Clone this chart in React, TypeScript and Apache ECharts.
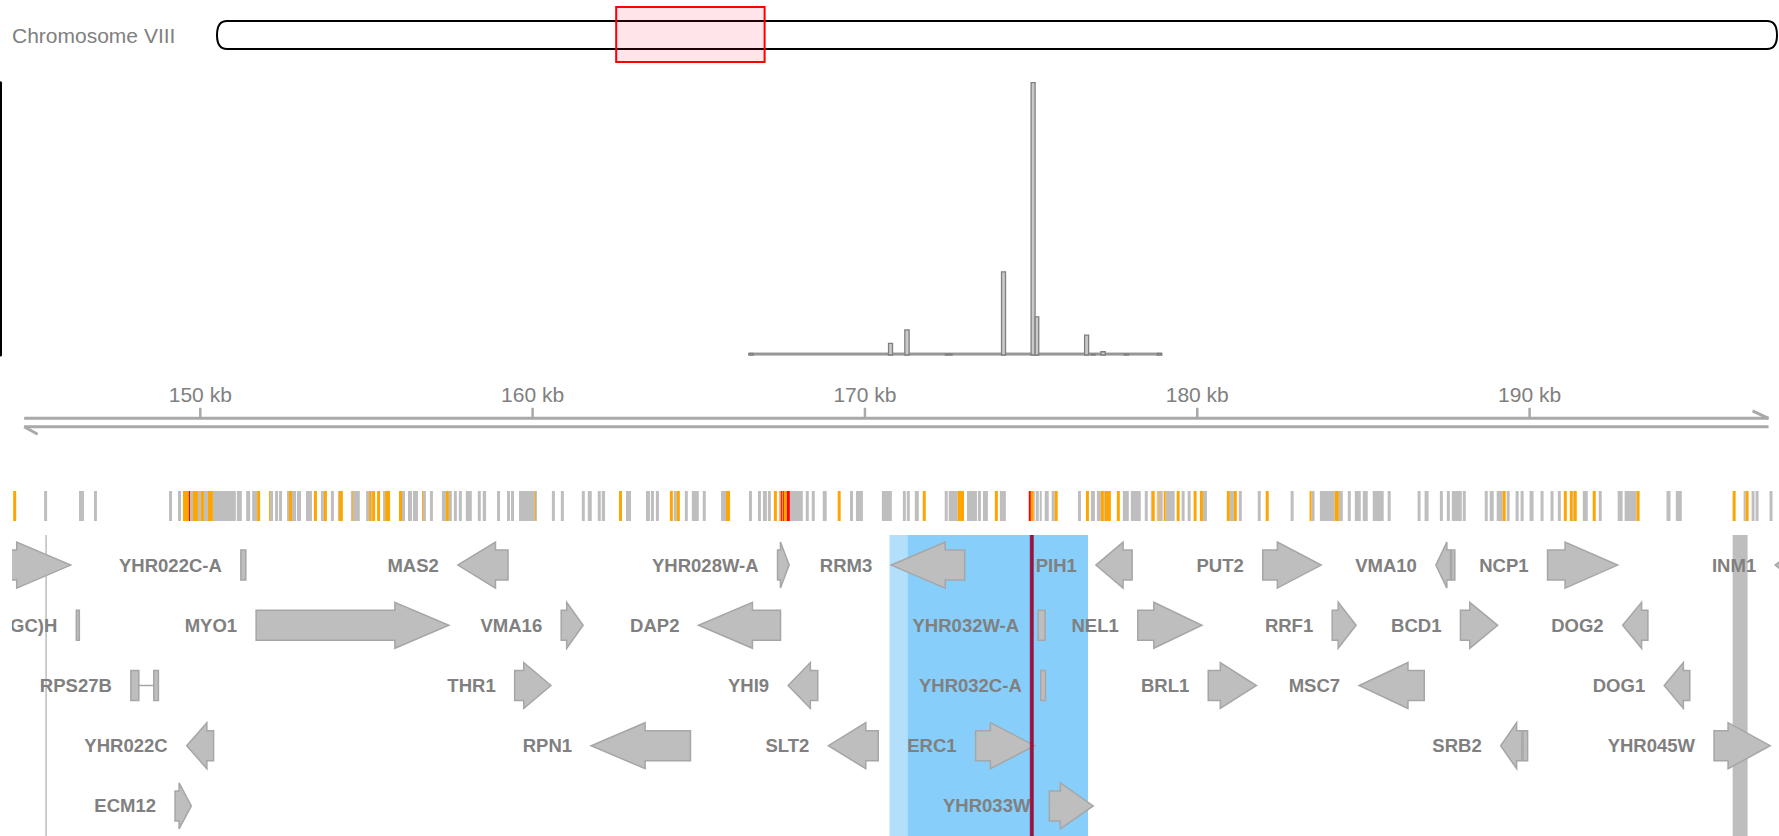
import React, { useEffect, useRef } from "react";
import * as echarts from "echarts";

const FONT = '"Liberation Sans", Arial, Helvetica, sans-serif';
const WIDTH = 1779;
const HEIGHT = 836;

// ---------------- data ----------------
const chromosomeLabel = "Chromosome VIII";
const chromosomeLengthKb = 562.643;
const viewStartKb = 143.973;
const viewEndKb = 197.505;

const axisStartKb = 144.7;
const axisEndKb = 197.19;
const axisTicksKb = [150, 160, 170, 180, 190];

// coverage histogram (bins)
const coverageStartKb = [166.51, 170.71, 171.2, 172.42, 174.11, 175.0, 175.12, 176.61, 176.81, 177.1, 177.8, 178.8];
const coverageEndKb = [166.63, 170.83, 171.33, 172.62, 174.23, 175.12, 175.23, 176.73, 176.93, 177.23, 177.93, 178.93];
const coverageValue = [0.6, 4.3, 9.2, 0.3, 30.5, 100, 14.0, 7.3, 0.3, 1.2, 0.3, 0.6];
const coverageBaselineKb = [166.51, 178.93];
const coverageBaselineValue = 0.7;

// variants: [startKb, endKb]
const lowImpactVariants: number[][] = [
  [145.3, 145.39], [146.35, 146.5], [146.8, 146.89], [149.06, 149.15], [149.33, 149.42], [149.69, 149.78],
  [149.93, 150.02], [150.11, 150.23], [150.38, 151.07], [151.1, 151.25], [151.38, 151.5], [151.56, 151.71],
  [152.1, 152.19], [152.25, 152.34], [152.37, 152.46], [152.61, 152.67], [152.76, 152.88], [152.91, 153.03],
  [153.18, 153.36], [153.63, 153.72], [153.93, 154.02], [154.14, 154.17], [154.53, 154.56], [154.59, 154.8],
  [154.99, 155.08], [155.14, 155.17], [155.5, 155.56], [156.07, 156.16], [156.25, 156.37], [156.4, 156.55],
  [156.7, 156.79], [156.91, 157.0], [157.27, 157.39], [157.48, 157.57], [157.63, 157.72], [157.78, 157.87],
  [157.99, 158.17], [158.35, 158.44], [158.5, 158.6], [158.93, 159.02], [159.23, 159.32], [159.35, 159.44],
  [159.59, 160.07], [160.1, 160.13], [160.58, 160.67], [160.85, 160.94], [161.48, 161.57], [161.66, 161.78],
  [161.96, 162.05], [162.08, 162.18], [162.81, 162.96], [163.41, 163.53], [163.56, 163.65], [163.71, 163.8],
  [164.25, 164.34], [164.58, 164.67], [164.79, 165.0], [165.12, 165.21], [165.67, 165.82], [166.51, 166.6],
  [166.78, 166.87], [166.93, 167.05], [167.08, 167.17], [167.41, 167.44], [167.74, 168.13], [168.22, 168.31],
  [168.4, 168.49], [168.73, 168.85], [169.55, 169.64], [169.73, 169.94], [170.51, 170.81], [171.14, 171.23],
  [171.26, 171.35], [171.5, 171.62], [172.4, 172.49], [172.52, 172.79], [173.07, 173.37], [173.4, 173.49],
  [173.55, 173.7], [174.06, 174.24], [175.08, 175.11], [175.14, 175.23], [175.26, 175.32], [175.41, 175.53],
  [175.62, 175.71], [176.41, 176.5], [176.8, 176.92], [176.98, 177.1], [177.19, 177.22], [177.76, 177.94],
  [178.0, 178.3], [178.42, 178.51], [178.6, 178.63], [178.78, 178.81], [178.84, 178.96], [179.05, 179.32],
  [179.53, 179.62], [179.71, 179.8], [180.17, 180.29], [180.98, 181.1], [181.25, 181.34], [181.82, 181.91],
  [182.81, 182.9], [183.44, 183.53], [183.69, 184.14], [184.26, 184.38], [184.53, 184.62], [184.74, 184.92],
  [184.98, 185.13], [185.28, 185.61], [185.73, 185.82], [186.63, 186.72], [186.84, 186.96], [187.3, 187.39],
  [187.51, 187.6], [187.66, 187.96], [187.99, 188.08], [188.65, 188.74], [188.8, 188.92], [189.01, 189.19],
  [189.31, 189.4], [189.58, 189.67], [189.73, 189.82], [190.0, 190.12], [190.33, 190.42], [190.63, 190.72],
  [190.85, 190.94], [191.3, 191.33], [191.6, 191.75], [192.08, 192.17], [192.65, 192.8], [192.86, 193.22],
  [194.12, 194.24], [194.4, 194.58], [196.44, 196.5], [196.68, 196.77], [196.8, 196.89], [197.22, 197.31],
];
const moderateImpactVariants: number[][] = [
  [144.37, 144.46], [149.48, 149.66], [149.78, 149.93], [150.02, 150.11], [150.23, 150.38], [151.71, 151.8],
  [152.07, 152.1], [152.67, 152.76], [153.42, 153.51], [153.72, 153.81], [154.17, 154.29], [154.56, 154.59],
  [155.08, 155.14], [155.17, 155.26], [155.32, 155.41], [155.56, 155.71], [155.98, 156.07], [156.67, 156.7],
  [157.39, 157.48], [160.07, 160.1], [162.6, 162.69], [164.13, 164.22], [164.34, 164.43], [165.82, 165.94],
  [167.26, 167.35], [167.44, 167.47], [167.5, 167.53], [167.56, 167.65], [169.18, 169.27], [171.74, 171.83],
  [172.79, 172.98], [173.91, 174.0], [174.99, 175.08], [175.71, 175.8], [176.65, 176.74], [177.1, 177.19],
  [177.22, 177.4], [177.58, 177.67], [178.63, 178.72], [178.81, 178.84], [178.99, 179.05], [179.38, 179.47],
  [179.89, 179.98], [180.08, 180.17], [180.89, 180.98], [181.1, 181.19], [182.06, 182.15], [183.38, 183.44],
  [184.14, 184.26], [189.19, 189.28], [191.03, 191.12], [191.21, 191.3], [191.33, 191.42], [191.9, 191.99],
  [193.22, 193.31], [196.11, 196.2], [196.5, 196.59],
];
const highImpactVariants: number[][] = [
  [149.66, 149.69], [167.47, 167.5], [167.53, 167.56], [167.65, 167.74], [174.93, 174.99],
];

// genes
const geneNames = [
  "YHR020W", "YHR022C-A", "MAS2", "YHR028W-A", "RRM3", "PIH1", "PUT2", "VMA10", "NCP1", "INM1",
  "tA(AGC)H", "MYO1", "VMA16", "DAP2", "YHR032W-A", "NEL1", "RRF1", "BCD1", "DOG2",
  "RPS27B", "THR1", "YHI9", "YHR032C-A", "BRL1", "MSC7", "DOG1",
  "YHR022C", "RPN1", "SLT2", "ERC1", "SRB2", "YHR045W",
  "ECM12", "YHR033W",
];
const geneStartKb = [
  143.5, 151.22, 157.75, 167.37, 170.79, 176.95, 181.97, 187.18, 190.54, 197.39,
  146.27, 151.68, 160.86, 164.99, 175.21, 178.21, 184.06, 187.92, 192.8,
  147.91, 159.46, 167.69, 175.29, 180.33, 184.87, 194.05,
  149.59, 161.76, 168.9, 173.33, 189.13, 195.55,
  149.24, 175.55,
];
const geneEndKb = [
  146.1, 151.37, 159.26, 167.72, 173.0, 178.04, 183.73, 187.75, 192.65, 198.6,
  146.36, 157.48, 161.52, 167.46, 175.42, 180.14, 184.78, 189.04, 193.56,
  148.74, 160.55, 168.58, 175.43, 181.78, 186.83, 194.82,
  150.4, 164.75, 170.4, 175.11, 189.94, 197.24,
  149.73, 176.87,
];
const geneStrand = [
  "+", "-", "-", "+", "-", "-", "+", "-", "+", "-",
  "+", "+", "+", "-", "+", "+", "+", "+", "-",
  "-", "+", "-", "-", "+", "-", "-",
  "-", "-", "-", "+", "-", "+",
  "+", "+",
];
const geneRow = [
  1, 1, 1, 1, 1, 1, 1, 1, 1, 1,
  2, 2, 2, 2, 2, 2, 2, 2, 2,
  3, 3, 3, 3, 3, 3, 3,
  4, 4, 4, 4, 4, 4,
  5, 5,
];
const geneExonsKb: Record<string, number[][]> = {
  RPS27B: [[147.91, 148.15], [148.6, 148.74]],
  VMA10: [[187.18, 187.62], [187.65, 187.75]],
  SRB2: [[189.13, 189.77], [189.8, 189.94]],
};

const highlightRangesKb = [[170.74, 176.71], [171.29, 176.71]];
const greyBandKb = [196.11, 196.56];
const guideLineKb = 145.36;
const markerKb = 175.02;

// ---------------- styles ----------------
const TEXT_GREY = "#808080";
const GENE_FILL = "#bebebe";
const GENE_STROKE = "#a6a6a6";
const HIGHLIGHT_COLORS = ["#b1dffc", "#87cefa"];
const GENE_GRID_LEFT = 12;

function arrowPoints(x0: number, x1: number, yc: number, strand: string) {
  const w = x1 - x0;
  const head = Math.min(0.75 * w, 54);
  const hb = 15;
  const hh = 23;
  if (strand === "+") {
    return [[x0, yc - hb], [x1 - head, yc - hb], [x1 - head, yc - hh], [x1, yc], [x1 - head, yc + hh], [x1 - head, yc + hb], [x0, yc + hb]];
  }
  return [[x1, yc - hb], [x0 + head, yc - hb], [x0 + head, yc - hh], [x0, yc], [x0 + head, yc + hh], [x0 + head, yc + hb], [x1, yc + hb]];
}

function buildOption() {
  const kbPerPx = (viewEndKb - viewStartKb) / WIDTH;
  const hidden = { show: false };

  const variantRender = (color: string) => (params: any, api: any) => {
    const a = api.coord([api.value(0), 1]);
    const b = api.coord([api.value(1), 0]);
    return {
      type: "rect",
      shape: { x: a[0], y: a[1], width: Math.max(1, b[0] - a[0]), height: b[1] - a[1] },
      style: { fill: color },
    };
  };

  return {
    animation: false,
    backgroundColor: "#ffffff",
    graphic: [
      {
        type: "text",
        x: 12,
        y: 35.8,
        style: { text: chromosomeLabel, fill: TEXT_GREY, fontSize: 21, fontFamily: FONT, verticalAlign: "middle", align: "left" },
      },
    ],
    grid: [
      { left: 217, width: 1560, top: 21, height: 28 },
      { left: 0, width: WIDTH, top: 82.7, height: 272.3 },
      { left: 0, width: WIDTH, top: 418.3, height: 8.4 },
      { left: 0, width: WIDTH, top: 491, height: 30 },
      { left: GENE_GRID_LEFT, width: WIDTH - GENE_GRID_LEFT, top: 535, height: 301 },
    ],
    xAxis: [
      { gridIndex: 0, type: "value", min: 0, max: chromosomeLengthKb, ...hidden },
      { gridIndex: 1, type: "value", min: viewStartKb, max: viewEndKb, ...hidden },
      { gridIndex: 2, type: "value", min: viewStartKb, max: viewEndKb, ...hidden },
      { gridIndex: 3, type: "value", min: viewStartKb, max: viewEndKb, ...hidden },
      { gridIndex: 4, type: "value", min: viewStartKb + GENE_GRID_LEFT * kbPerPx, max: viewEndKb, ...hidden },
    ],
    yAxis: [
      { gridIndex: 0, type: "value", min: 0, max: 1, ...hidden },
      {
        gridIndex: 1, type: "value", min: 0, max: 100, show: true,
        axisLine: { show: true, lineStyle: { color: "#000000", width: 3 } },
        axisTick: { show: false }, axisLabel: { show: false }, splitLine: { show: false },
      },
      { gridIndex: 2, type: "value", min: 0, max: 1, ...hidden },
      { gridIndex: 3, type: "value", min: 0, max: 1, ...hidden },
      { gridIndex: 4, type: "value", min: 0.5, max: 5.5, inverse: true, ...hidden },
    ],
    series: [
      // ideogram + current window
      {
        type: "custom", xAxisIndex: 0, yAxisIndex: 0, clip: false, silent: true,
        data: [[0, chromosomeLengthKb, 0], [viewStartKb, viewEndKb, 1]],
        renderItem: (params: any, api: any) => {
          const cs = params.coordSys;
          const a = api.coord([api.value(0), 0]);
          const b = api.coord([api.value(1), 1]);
          const yc = cs.y + cs.height / 2;
          if (api.value(2) === 0) {
            const x0 = a[0], x1 = b[0], yt = cs.y, yb = cs.y + cs.height, cap = 10;
            const d = `M${x0 + cap},${yt} L${x1 - cap},${yt} C${x1 - 3},${yt} ${x1},${yt + 5} ${x1},${yc} C${x1},${yb - 5} ${x1 - 3},${yb} ${x1 - cap},${yb} L${x0 + cap},${yb} C${x0 + 3},${yb} ${x0},${yb - 5} ${x0},${yc} C${x0},${yt + 5} ${x0 + 3},${yt} ${x0 + cap},${yt} Z`;
            return { type: "path", shape: { pathData: d }, style: { fill: "#ffffff", stroke: "#000000", lineWidth: 2 } };
          }
          return {
            type: "rect",
            shape: { x: a[0], y: yc - 28, width: b[0] - a[0], height: 55 },
            style: { fill: "rgba(255,20,60,0.11)", stroke: "#ff0000", lineWidth: 2 },
          };
        },
      },
      // coverage baseline
      {
        type: "custom", xAxisIndex: 1, yAxisIndex: 1, silent: true,
        data: [[coverageBaselineKb[0], coverageBaselineKb[1], coverageBaselineValue]],
        renderItem: (params: any, api: any) => {
          const a = api.coord([api.value(0), 0]);
          const b = api.coord([api.value(1), api.value(2)]);
          return {
            type: "rect",
            shape: { x: a[0], y: b[1], width: b[0] - a[0], height: a[1] - b[1] },
            style: { fill: "#a6a6a6", stroke: "#8a8a8a", lineWidth: 1 },
          };
        },
      },
      // coverage bins
      {
        type: "custom", xAxisIndex: 1, yAxisIndex: 1, silent: true,
        data: coverageStartKb.map((s, i) => [s, coverageEndKb[i], coverageValue[i]]),
        renderItem: (params: any, api: any) => {
          const a = api.coord([api.value(0), 0]);
          const b = api.coord([api.value(1), api.value(2)]);
          return {
            type: "rect",
            shape: { x: a[0], y: b[1], width: b[0] - a[0], height: a[1] - b[1] },
            style: { fill: "#cacaca", stroke: "#7f7f7f", lineWidth: 1.3 },
          };
        },
      },
      // genome axis line
      {
        type: "custom", xAxisIndex: 2, yAxisIndex: 2, clip: false, silent: true,
        data: [[axisStartKb, axisEndKb]],
        renderItem: (params: any, api: any) => {
          const a = api.coord([api.value(0), 1]);
          const b = api.coord([api.value(1), 0]);
          const yU = a[1], yL = b[1], x0 = a[0], x1 = b[0];
          const st = { stroke: "#a9a9a9", lineWidth: 3 };
          return {
            type: "group",
            children: [
              { type: "line", shape: { x1: x0, y1: yU, x2: x1, y2: yU }, style: st },
              { type: "line", shape: { x1: x0, y1: yL, x2: x1, y2: yL }, style: st },
              { type: "line", shape: { x1: x0, y1: yL, x2: x0 + 13.5, y2: yL + 7.5 }, style: st },
              { type: "line", shape: { x1: x1, y1: yU, x2: x1 - 16, y2: yU - 7.5 }, style: st },
            ],
          };
        },
      },
      // genome axis ticks
      {
        type: "custom", xAxisIndex: 2, yAxisIndex: 2, clip: false, silent: true,
        data: axisTicksKb.map((v) => [v, 1]),
        renderItem: (params: any, api: any) => {
          const p = api.coord([api.value(0), 1]);
          return {
            type: "group",
            children: [
              { type: "line", shape: { x1: p[0], y1: p[1], x2: p[0], y2: p[1] - 10.5 }, style: { stroke: "#a9a9a9", lineWidth: 2.5 } },
              {
                type: "text", x: p[0], y: p[1] - 23.8,
                style: { text: `${api.value(0)} kb`, fill: TEXT_GREY, fontSize: 21, fontFamily: FONT, align: "center", verticalAlign: "middle" },
              },
            ],
          };
        },
      },
      // variants
      { type: "custom", xAxisIndex: 3, yAxisIndex: 3, silent: true, data: lowImpactVariants, renderItem: variantRender("#bebebe") },
      { type: "custom", xAxisIndex: 3, yAxisIndex: 3, silent: true, data: moderateImpactVariants, renderItem: variantRender("#ffa500") },
      { type: "custom", xAxisIndex: 3, yAxisIndex: 3, silent: true, data: highImpactVariants, renderItem: variantRender("#ff0000") },
      // gene track background: highlights, band, guide line
      {
        type: "custom", xAxisIndex: 4, yAxisIndex: 4, clip: true, silent: true,
        data: highlightRangesKb.map((r, k) => [r[0], r[1], k]),
        renderItem: (params: any, api: any) => {
          const cs = params.coordSys;
          const x0 = api.coord([api.value(0), 1])[0];
          const x1 = api.coord([api.value(1), 1])[0];
          return { type: "rect", shape: { x: x0, y: cs.y, width: x1 - x0, height: cs.height }, style: { fill: HIGHLIGHT_COLORS[api.value(2)] } };
        },
      },
      {
        type: "custom", xAxisIndex: 4, yAxisIndex: 4, clip: true, silent: true,
        data: [[greyBandKb[0], greyBandKb[1]]],
        renderItem: (params: any, api: any) => {
          const cs = params.coordSys;
          const x0 = api.coord([api.value(0), 1])[0];
          const x1 = api.coord([api.value(1), 1])[0];
          return { type: "rect", shape: { x: x0, y: cs.y, width: x1 - x0, height: cs.height }, style: { fill: "#bebebe" } };
        },
      },
      {
        type: "custom", xAxisIndex: 4, yAxisIndex: 4, clip: true, silent: true,
        data: [[guideLineKb, 1]],
        renderItem: (params: any, api: any) => {
          const cs = params.coordSys;
          const x = api.coord([api.value(0), 1])[0];
          return { type: "line", shape: { x1: x, y1: cs.y, x2: x, y2: cs.y + cs.height }, style: { stroke: "#bdbdbd", lineWidth: 1.5 } };
        },
      },
      // genes
      {
        type: "custom", xAxisIndex: 4, yAxisIndex: 4, clip: true, silent: true,
        data: geneNames.map((n, i) => [geneStartKb[i], geneEndKb[i], geneRow[i], i]),
        renderItem: (params: any, api: any) => {
          const i = api.value(3);
          const name = geneNames[i];
          const strand = geneStrand[i];
          const yc = api.coord([api.value(0), api.value(2)])[1];
          const exons = geneExonsKb[name] || [[api.value(0), api.value(1)]];
          const xs = exons.map(([s, e]) => [api.coord([s, 1])[0], api.coord([e, 1])[0]]);
          const children: any[] = [];
          const gs = { fill: GENE_FILL, stroke: GENE_STROKE, lineWidth: 1.5 };
          for (let k = 0; k < xs.length - 1; k++) {
            children.push({ type: "line", shape: { x1: xs[k][1], y1: yc, x2: xs[k + 1][0], y2: yc }, style: { stroke: GENE_STROKE, lineWidth: 1.5 } });
          }
          const arrowIdx = strand === "+" ? xs.length - 1 : 0;
          xs.forEach(([x0, x1], k) => {
            const w = x1 - x0;
            if (k === arrowIdx && w >= 10) {
              children.push({ type: "polygon", shape: { points: arrowPoints(x0, x1, yc, strand) }, style: gs });
            } else {
              children.push({ type: "rect", shape: { x: x0, y: yc - 15, width: Math.max(w, 1.5), height: 30 }, style: gs });
            }
          });
          const left = Math.min(...xs.map((x) => x[0]));
          const labelRight = left - 19;
          // a label lying wholly left of the track is not drawn (it would be invisible)
          if (labelRight > GENE_GRID_LEFT) {
            children.push({
              type: "text", x: labelRight, y: yc,
              style: { text: name, fill: TEXT_GREY, fontSize: 18.5, fontWeight: "bold", fontFamily: FONT, align: "right", verticalAlign: "middle" },
            });
          }
          return { type: "group", children };
        },
      },
      // marker line
      {
        type: "custom", xAxisIndex: 4, yAxisIndex: 4, clip: true, silent: true, z: 5,
        data: [[markerKb, 1]],
        renderItem: (params: any, api: any) => {
          const cs = params.coordSys;
          const x = api.coord([api.value(0), 1])[0];
          return {
            type: "rect",
            shape: { x: x - 1.5, y: cs.y, width: 3, height: cs.height },
            style: { fill: "#d80000", stroke: "#2a2aa0", lineWidth: 0.7 },
          };
        },
      },
    ],
  };
}

export default function App() {
  const ref = useRef<HTMLDivElement>(null);
  useEffect(() => {
    if (!ref.current) return;
    const chart = echarts.init(ref.current, undefined, { renderer: "svg" });
    chart.setOption(buildOption() as any);
    return () => chart.dispose();
  }, []);
  return (
    <div
      ref={ref}
      style={{ position: "fixed", left: 0, top: 0, width: WIDTH, height: HEIGHT, background: "#ffffff" }}
    />
  );
}
